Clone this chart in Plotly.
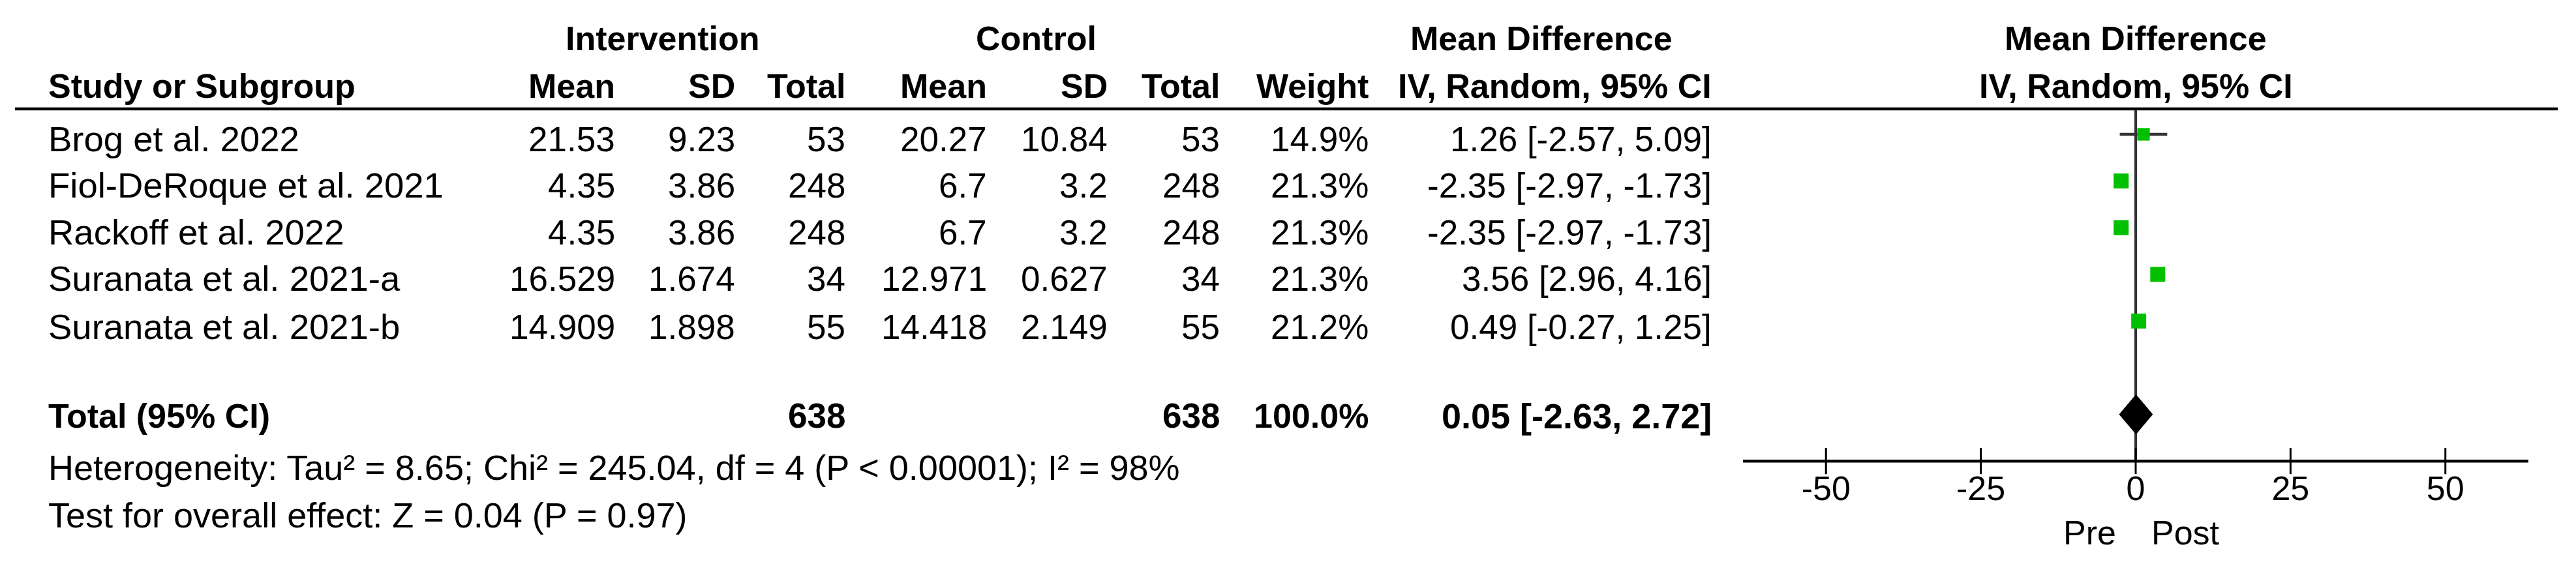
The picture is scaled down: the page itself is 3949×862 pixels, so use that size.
import plotly.graph_objects as go

# ---------------- data ----------------
studies = ["Brog et al. 2022", "Fiol-DeRoque et al. 2021", "Rackoff et al. 2022",
           "Suranata et al. 2021-a", "Suranata et al. 2021-b"]
int_mean = [21.53, 4.35, 4.35, 16.529, 14.909]
int_sd = [9.23, 3.86, 3.86, 1.674, 1.898]
int_n = [53, 248, 248, 34, 55]
ctl_mean = [20.27, 6.7, 6.7, 12.971, 14.418]
ctl_sd = [10.84, 3.2, 3.2, 0.627, 2.149]
ctl_n = [53, 248, 248, 34, 55]
weight = [14.9, 21.3, 21.3, 21.3, 21.2]
md = [1.26, -2.35, -2.35, 3.56, 0.49]
md_lo = [-2.57, -2.97, -2.97, 2.96, -0.27]
md_hi = [5.09, -1.73, -1.73, 4.16, 1.25]

total_int_n = 638
total_ctl_n = 638
total_weight = 100.0
total_md = 0.05
total_lo = -2.63
total_hi = 2.72

heterogeneity = "Heterogeneity: Tau² = 8.65; Chi² = 245.04, df = 4 (P < 0.00001); I² = 98%"
overall = "Test for overall effect: Z = 0.04 (P = 0.97)"
tick_vals = [-50, -25, 0, 25, 50]
left_label = "Pre"
right_label = "Post"

# ---------------- layout constants ----------------
W, H = 3949, 862
FONT = "Liberation Sans, Arial, sans-serif"
FS_BOLD = 52
FS_TEXT = 54.5
FS_FOOT = 54
FS_NUM = 53
FS_TICK = 52
GREEN = "#00C000"
DARK = "#333333"

rows = list(range(len(studies)))
total_row = 6
axis_row = 7
y_group = -2.053
y_head = -1.034
y_rule = -0.545
y_ticklab = 7.65
y_prepost = 8.53
y_het = 7.14
y_test = 8.156
ROW_SHIFT = -7   # px (negative = down), cap centres sit a bit below square centres

# column anchors in pixel units of the table axis (x2)
col_study = 72
col_int_mean = 945
col_int_sd = 1129
col_int_n = 1298
col_ctl_mean = 1515
col_ctl_sd = 1700
col_ctl_n = 1872
col_weight = 2100
col_ci = 2626
cx_int = 1016
cx_ctl = 1588
cx_md = 2363

fig = go.Figure()

# zero line
fig.add_trace(go.Scatter(x=[0, 0], y=[y_rule, axis_row], mode="lines",
                         line=dict(color=DARK, width=4), xaxis="x", yaxis="y",
                         hoverinfo="skip"))
# CI lines (one trace, gaps between studies)
ci_x, ci_y = [], []
for r, lo, hi in zip(rows, md_lo, md_hi):
    ci_x += [lo, hi, None]
    ci_y += [r, r, None]
fig.add_trace(go.Scatter(x=ci_x, y=ci_y, mode="lines",
                         line=dict(color=DARK, width=4.5), xaxis="x", yaxis="y",
                         hoverinfo="skip"))
# diamond
dh = 0.42
fig.add_trace(go.Scatter(x=[total_lo, total_md, total_hi, total_md, total_lo],
                         y=[total_row, total_row - dh, total_row, total_row + dh, total_row],
                         mode="lines", fill="toself", fillcolor="black",
                         line=dict(color="black", width=1), xaxis="x", yaxis="y",
                         hoverinfo="skip"))
# axis line and ticks
tk_x, tk_y = [], []
for t in tick_vals:
    tk_x += [t, t, None]
    tk_y += [axis_row - 0.28, axis_row + 0.28, None]
fig.add_trace(go.Scatter(x=tk_x, y=tk_y, mode="lines",
                         line=dict(color="black", width=3), xaxis="x", yaxis="y",
                         hoverinfo="skip"))
fig.add_trace(go.Scatter(x=[-63.4, 63.4], y=[axis_row, axis_row], mode="lines",
                         line=dict(color="black", width=4.5), xaxis="x", yaxis="y",
                         hoverinfo="skip"))
fig.add_trace(go.Scatter(x=tick_vals, y=[y_ticklab] * len(tick_vals), mode="text",
                         text=[str(t) for t in tick_vals],
                         textfont=dict(family=FONT, size=FS_TICK, color="black"),
                         xaxis="x", yaxis="y", hoverinfo="skip"))

# header rule (table axis)
fig.add_trace(go.Scatter(x=[23, 3921], y=[y_rule, y_rule], mode="lines",
                         line=dict(color="black", width=4.5), xaxis="x2", yaxis="y",
                         hoverinfo="skip"))

# squares drawn last so they sit on top of the CI lines
fig.add_trace(go.Scatter(x=md, y=rows, mode="markers",
                         marker=dict(symbol="square", color=GREEN, opacity=1,
                                     size=[4.98 * (w ** 0.5) for w in weight],
                                     line=dict(width=0)),
                         xaxis="x", yaxis="y", hoverinfo="skip"))

ann = []


def txt(x, y, s, anchor="right", bold=False, xref="x2", size=None, shift=0):
    if size is None:
        size = FS_BOLD if bold else FS_TEXT
    ann.append(dict(x=x, y=y, xref=xref, yref="y", text=("<b>%s</b>" % s) if bold else s,
                    showarrow=False, xanchor=anchor, yanchor="middle", yshift=shift,
                    font=dict(family=FONT, size=size, color="black")))


# group headers
txt(cx_int, y_group, "Intervention", "center", True)
txt(cx_ctl, y_group, "Control", "center", True)
txt(cx_md, y_group, "Mean Difference", "center", True)
txt(0, y_group, "Mean Difference", "center", True, xref="x")
# column headers
txt(col_study, y_head, "Study or Subgroup", "left", True)
txt(col_int_mean, y_head, "Mean", "right", True)
txt(col_int_sd, y_head, "SD", "right", True)
txt(col_int_n, y_head, "Total", "right", True)
txt(col_ctl_mean, y_head, "Mean", "right", True)
txt(col_ctl_sd, y_head, "SD", "right", True)
txt(col_ctl_n, y_head, "Total", "right", True)
txt(col_weight, y_head, "Weight", "right", True)
txt(col_ci, y_head, "IV, Random, 95% CI", "right", True)
txt(0, y_head, "IV, Random, 95% CI", "center", True, xref="x")

# study rows
for i, r in enumerate(rows):
    s = ROW_SHIFT - (2 if i == 4 else 0)
    txt(col_study, r, studies[i], "left", shift=s)
    txt(col_int_mean, r, f"{int_mean[i]:g}", size=FS_NUM, shift=s)
    txt(col_int_sd, r, f"{int_sd[i]:g}", size=FS_NUM, shift=s)
    txt(col_int_n, r, str(int_n[i]), size=FS_NUM, shift=s)
    txt(col_ctl_mean, r, f"{ctl_mean[i]:g}", size=FS_NUM, shift=s)
    txt(col_ctl_sd, r, f"{ctl_sd[i]:g}", size=FS_NUM, shift=s)
    txt(col_ctl_n, r, str(ctl_n[i]), size=FS_NUM, shift=s)
    txt(col_weight, r, f"{weight[i]:.1f}%", size=FS_NUM, shift=s)
    txt(col_ci, r, f"{md[i]:.2f} [{md_lo[i]:.2f}, {md_hi[i]:.2f}]", size=FS_NUM, shift=s)

# total row
txt(col_study, total_row, "Total (95% CI)", "left", True, shift=-2)
txt(col_int_n, total_row, str(total_int_n), "right", True, size=53, shift=-2)
txt(col_ctl_n, total_row, str(total_ctl_n), "right", True, size=53, shift=-2)
txt(col_weight, total_row, f"{total_weight:.1f}%", "right", True, shift=-2)
txt(col_ci, total_row, f"{total_md:.2f} [{total_lo:.2f}, {total_hi:.2f}]", "right", True,
    size=54, shift=-2)

# footnotes
txt(col_study, y_het, heterogeneity, "left", size=FS_FOOT)
txt(col_study, y_test, overall, "left", size=FS_FOOT)

# Pre / Post
txt(-2.9, y_prepost, left_label, "right", False, xref="x", size=FS_TICK)
txt(2.3, y_prepost, right_label, "left", False, xref="x", size=FS_TICK)

fig.update_layout(
    width=W, height=H,
    margin=dict(l=0, r=0, t=0, b=0),
    paper_bgcolor="white", plot_bgcolor="rgba(0,0,0,0)",
    showlegend=False,
    annotations=ann,
    xaxis=dict(domain=[2672 / W, 3876 / W], range=[-63.4, 63.4], visible=False,
               fixedrange=True),
    xaxis2=dict(domain=[0, 1], range=[0, W], visible=False, anchor="y", fixedrange=True),
    yaxis=dict(range=[(H - 206) / 71.6, -206 / 71.6], visible=False, domain=[0, 1],
               fixedrange=True),
    font=dict(family=FONT, size=FS_TEXT, color="black"),
)

fig.write_html("out.html", config={"displayModeBar": False},
               post_script="document.body.style.margin='0';")
